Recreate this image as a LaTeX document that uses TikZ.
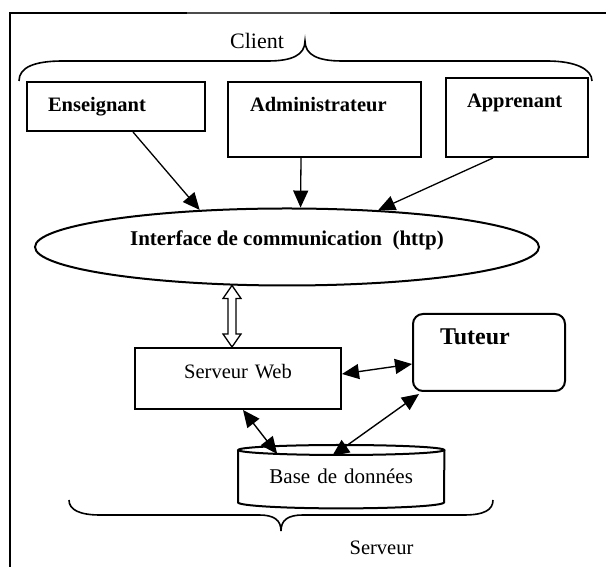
\documentclass[tikz,border=0pt]{standalone}
\usepackage{fontspec}
\setmainfont{Liberation Serif}
\usetikzlibrary{arrows.meta,calc,shapes.geometric}
\begin{document}
\begin{tikzpicture}[x=1pt,y=1pt,
  box/.style={draw,line width=2pt,anchor=north west,inner ysep=0pt,align=left,font=\fontsize{20.5}{24}\selectfont\bfseries},
  arr/.style={line width=1.3pt,-{Triangle[length=17pt,width=15pt]}},
  darr/.style={line width=1.4pt,{Triangle[length=17pt,width=15pt]}-{Triangle[length=17pt,width=15pt]}},
  bracestyle/.style={line width=1.6pt},
  lbl/.style={anchor=base,inner sep=0pt}]
\useasboundingbox (0,0) rectangle (606,567);
% frame
\draw[line width=2pt] (10,0) -- (10,554) -- (187,554);
\draw[line width=1.2pt,black!70] (187,554) -- (330,554);
\draw[line width=2pt] (330,554) -- (606,554);
% client brace and label
\draw[bracestyle] (19,486) .. controls (19,500) and (35,506) .. (63,506) -- (268,506)
  .. controls (292,506) and (305,512) .. (305,526)
  .. controls (305,512) and (318,506) .. (342,506) -- (547,506)
  .. controls (575,506) and (592,498) .. (592,486);
\node[lbl,font=\fontsize{22}{26}\selectfont] (cl) at (257,518) {Client};
% client boxes
\node[box,text width=136pt,inner xsep=21pt,text height=30pt,text depth=19pt] (ens) at (26,486) {Enseignant};
\node[box,text width=149pt,inner xsep=22pt,text height=30pt,text depth=45pt] (adm) at (227,486) {Administrateur};
\node[box,text width=100pt,inner xsep=21pt,text height=30pt,text depth=49pt] (apr) at (445,490) {Apprenant};
% interface
\node[draw,ellipse,line width=2pt,minimum width=504pt,minimum height=77pt,inner sep=0pt,
  text height=10pt,text depth=12pt,font=\fontsize{21}{24}\selectfont\bfseries] (iface) at (287,320)
  {Interface de communication\ \ (http)};
% server side
\node[box,rounded corners=10pt,text width=98pt,inner xsep=27pt,text height=31pt,text depth=46pt,
  font=\fontsize{24}{28}\selectfont\bfseries] (tut) at (412,254) {Tuteur};
\node[box,align=center,text width=186pt,inner xsep=10pt,text height=31pt,text depth=30pt,
  font=\fontsize{20.5}{24}\selectfont] (sw) at (134,220) {Serveur Web};
\node[anchor=north west,align=center,text width=186pt,inner xsep=10pt,inner ysep=0pt,
  text height=38pt,text depth=25pt,font=\fontsize{21}{24}\selectfont] (db) at (238,122) {Base de données};
\draw[line width=2pt] ([yshift=-5pt]db.north) ellipse [x radius=103pt, y radius=5pt];
\draw[line width=2pt] ([yshift=-5pt]db.north west) -- ([yshift=6pt]db.south west)
  arc[start angle=180,end angle=360,x radius=103pt,y radius=6pt] -- ([yshift=-5pt]db.north east);
% server brace and label
\draw[bracestyle] (69,67) .. controls (69,57) and (80,52) .. (100,52) -- (259,52)
  .. controls (274,52) and (281,47) .. (281,36)
  .. controls (281,47) and (288,52) .. (303,52) -- (464,52)
  .. controls (484,52) and (493,57) .. (493,67);
\node[lbl,font=\fontsize{20.5}{24}\selectfont] (srv) at (381.5,12) {Serveur};
% connectors
\draw[arr] ([xshift=17pt]ens.south) -- (iface.157);
\draw[arr] ([xshift=-23.5pt]adm.south) -- (iface.71);
\draw[arr] ([xshift=-24pt]apr.south) -- (iface.22);
\draw[line width=1.3pt,fill=white] let \p1=(iface.-146), \p2=([xshift=-6pt]sw.north) in
  (\x2,\y1) -- ++(9,-13) -- ++(-5,0) -- ({\x2+4pt},{\y2+13pt}) -- ++(5,0) -- (\x2,\y2)
  -- ++(-9,13) -- ++(5,0) -- ({\x2-4pt},{\y1-13pt}) -- ++(-5,0) -- cycle;
\draw[darr] ([yshift=4.5pt]sw.east) -- ([yshift=-11.5pt]tut.west);
\draw[darr] ([xshift=5pt]sw.south) -- ([xshift=-64pt,yshift=-9pt]db.north);
\draw[darr] ([xshift=7pt,yshift=-2pt]tut.south west) -- ([xshift=-9pt,yshift=-11pt]db.north);
\end{tikzpicture}
\end{document}
